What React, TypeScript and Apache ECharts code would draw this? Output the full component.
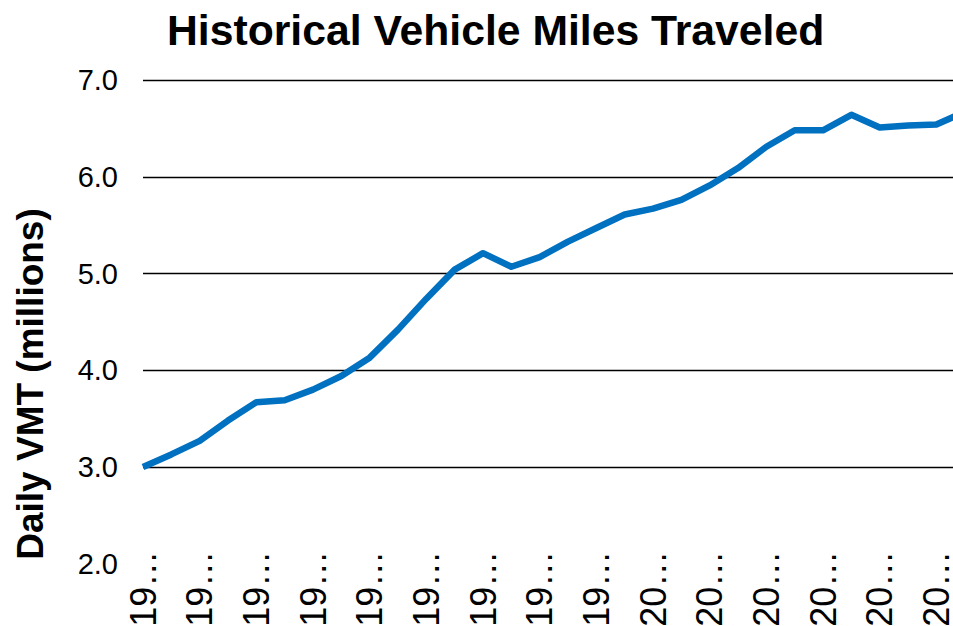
import React, { useEffect, useRef } from "react";
import * as echarts from "echarts";

const years: string[] = [
  "1982", "1983", "1984", "1985", "1986", "1987", "1988", "1989", "1990", "1991",
  "1992", "1993", "1994", "1995", "1996", "1997", "1998", "1999", "2000", "2001",
  "2002", "2003", "2004", "2005", "2006", "2007", "2008", "2009", "2010", "2011",
];
const dailyVmt: number[] = [
  3.0, 3.13, 3.27, 3.48, 3.67, 3.69, 3.8, 3.94, 4.13, 4.42,
  4.74, 5.04, 5.21, 5.07, 5.17, 5.33, 5.47, 5.61, 5.67, 5.76,
  5.91, 6.09, 6.31, 6.48, 6.48, 6.64, 6.51, 6.53, 6.54, 6.67,
];
const titleText = "Historical Vehicle Miles Traveled";
const yAxisTitle = "Daily VMT (millions)";

const FONT = "'Liberation Sans', Arial, Helvetica, sans-serif";

export default function App() {
  const ref = useRef<HTMLDivElement>(null);
  useEffect(() => {
    if (!ref.current) return;
    const chart = echarts.init(ref.current, null, { renderer: "svg" });
    chart.setOption({
      animation: false,
      backgroundColor: "#ffffff",
      title: {
        text: titleText,
        left: 162,
        top: 3,
        textStyle: { fontFamily: FONT, fontSize: 42.7, fontWeight: "bold", color: "#000" },
      },
      graphic: [
        {
          type: "text",
          x: 30,
          y: 384,
          rotation: Math.PI / 2,
          style: {
            text: yAxisTitle,
            fontFamily: FONT,
            fontSize: 37,
            fontWeight: "bold",
            fill: "#000",
            textAlign: "center",
            textVerticalAlign: "middle",
          },
        },
      ],
      grid: {
        left: 143,
        top: 80,
        right: -11.7,
        bottom: 62.25,
        containLabel: false,
        outerBoundsMode: "none",
      },
      xAxis: {
        type: "category",
        data: years,
        boundaryGap: false,
        axisLine: { show: false },
        axisTick: { show: false },
        axisLabel: {
          interval: 1,
          rotate: 90,
          margin: -13,
          fontFamily: FONT,
          fontSize: 36,
          color: "#000",
          formatter: (v: string) => v.slice(0, 2) + "…",
        },
      },
      yAxis: {
        type: "value",
        min: 2,
        max: 7,
        interval: 1,
        axisLine: { show: false },
        axisTick: { show: false },
        axisLabel: {
          margin: 25,
          fontFamily: FONT,
          fontSize: 29,
          color: "#000",
          formatter: (v: number) => v.toFixed(1),
        },
        splitLine: { show: true, showMinLine: false, lineStyle: { color: "#000", width: 1.3 } },
      },
      series: [
        {
          type: "line",
          data: dailyVmt,
          symbol: "none",
          lineStyle: { color: "#0070C0", width: 6.5, join: "round" },
          itemStyle: { color: "#0070C0" },
        },
      ],
    });
    return () => chart.dispose();
  }, []);
  return (
    <div
      ref={ref}
      style={{ position: "fixed", left: 0, top: 0, width: 953, height: 626, background: "#fff" }}
    />
  );
}
